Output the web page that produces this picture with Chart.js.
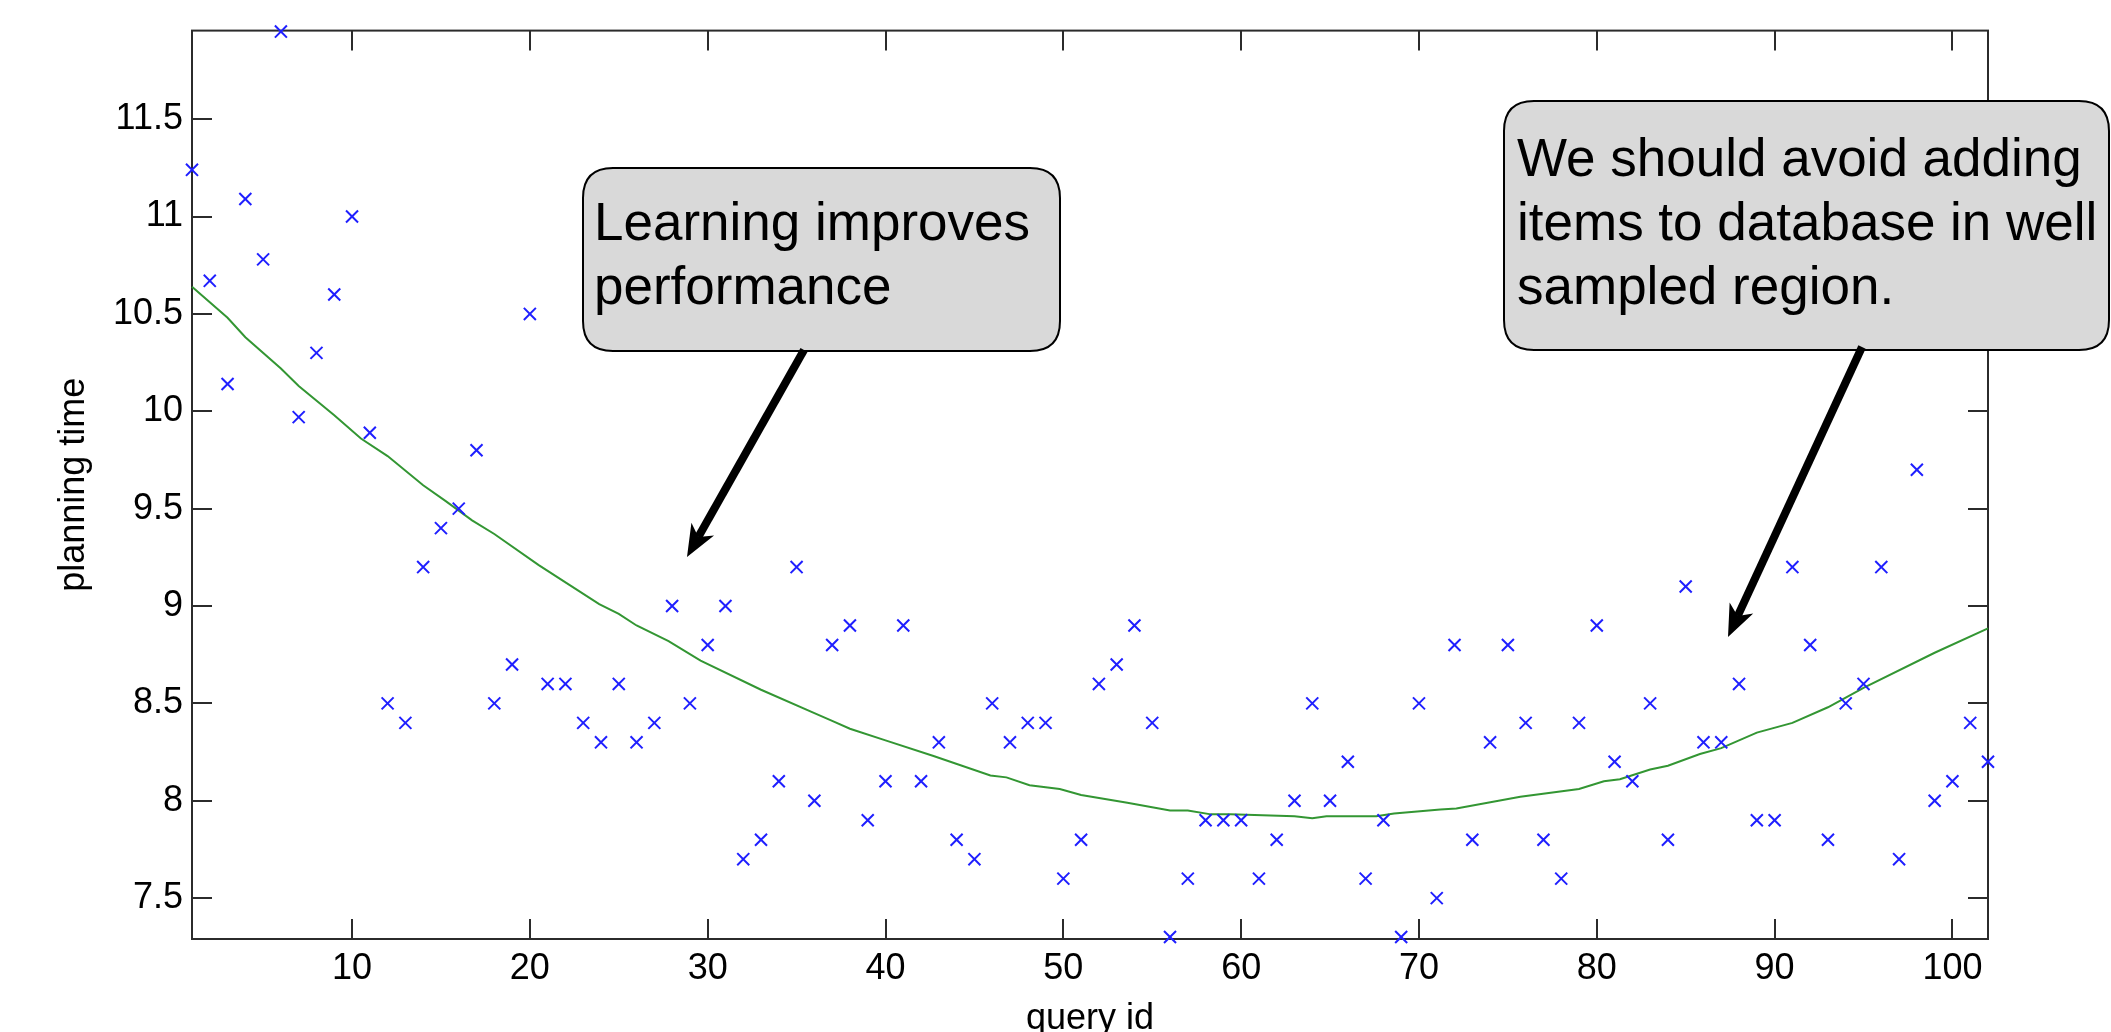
<!DOCTYPE html>
<html>
<head>
<meta charset="utf-8">
<title>planning time vs query id</title>
<script src="https://cdn.jsdelivr.net/npm/chart.js@4.4.1/dist/chart.umd.min.js"></script>
<style>
    html, body { margin: 0; padding: 0; background: #fff; }
    #wrap { width: 2111px; height: 1032px; position: relative; overflow: hidden; }
</style>
</head>
<body>
<div id="wrap"><canvas id="chart" width="2111" height="1032"></canvas></div>
<script>
// query ids (x) and measured planning time (y)
const queryIds = [1, 2, 3, 4, 5, 6, 7, 8, 9, 10, 11, 12, 13, 14, 15, 16, 17, 18, 19, 20,
    21, 22, 23, 24, 25, 26, 27, 28, 29, 30, 31, 32, 33, 34, 35, 36, 37, 38, 39, 40,
    41, 42, 43, 44, 45, 46, 47, 48, 49, 50, 51, 52, 53, 54, 55, 56, 57, 58, 59, 60,
    61, 62, 63, 64, 65, 66, 67, 68, 69, 70, 71, 72, 73, 74, 75, 76, 77, 78, 79, 80,
    81, 82, 83, 84, 85, 86, 87, 88, 89, 90, 91, 92, 93, 94, 95, 96, 97, 98, 99, 100,
    101, 102];
const planningTimes = [11.24, 10.67, 10.14, 11.09, 10.78, 11.95, 9.97, 10.30, 10.60, 11.0,
    9.89, 8.5, 8.4, 9.2, 9.4, 9.5, 9.8, 8.5, 8.7, 10.5,
    8.6, 8.6, 8.4, 8.3, 8.6, 8.3, 8.4, 9.0, 8.5, 8.8,
    9.0, 7.7, 7.8, 8.1, 9.2, 8.0, 8.8, 8.9, 7.9, 8.1,
    8.9, 8.1, 8.3, 7.8, 7.7, 8.5, 8.3, 8.4, 8.4, 7.6,
    7.8, 8.6, 8.7, 8.9, 8.4, 7.3, 7.6, 7.9, 7.9, 7.9,
    7.6, 7.8, 8.0, 8.5, 8.0, 8.2, 7.6, 7.9, 7.3, 8.5,
    7.5, 8.8, 7.8, 8.3, 8.8, 8.4, 7.8, 7.6, 8.4, 8.9,
    8.2, 8.1, 8.5, 7.8, 9.1, 8.3, 8.3, 8.6, 7.9, 7.9,
    9.2, 8.8, 7.8, 8.5, 8.6, 9.2, 7.7, 9.7, 8.0, 8.1,
    8.4, 8.2];

// green trend line
const trendX = [1, 3, 4, 6, 7, 9, 10.5, 12, 14, 15.25, 16.75, 18, 20.5, 22.2, 23.9, 25, 26, 27.8,
    29.6, 33, 36, 37, 38, 40, 42.7, 45.9, 46.8, 48.1, 49.8, 51, 53.6, 56, 57, 58.3, 59.4,
    63, 64, 64.8, 67.6, 68.6, 71.2, 72.1, 75.7, 79, 80.4, 81.3, 83, 84, 85.8, 87, 89, 91,
    93, 95, 99, 102];
const trendY = [10.64, 10.48, 10.38, 10.22, 10.13, 9.98, 9.86, 9.77, 9.62, 9.54, 9.44, 9.37, 9.21, 9.11, 9.01, 8.96, 8.90, 8.82,
    8.72, 8.57, 8.45, 8.41, 8.37, 8.31, 8.23, 8.13, 8.12, 8.08, 8.06, 8.03, 7.99, 7.95, 7.95, 7.93, 7.93,
    7.92, 7.91, 7.92, 7.92, 7.935, 7.955, 7.96, 8.02, 8.06, 8.10, 8.11, 8.16, 8.18, 8.24, 8.27, 8.35, 8.40,
    8.48, 8.58, 8.76, 8.885];

const xTicks = [10, 20, 30, 40, 50, 60, 70, 80, 90, 100];
const yTicks = [7.5, 8, 8.5, 9, 9.5, 10, 10.5, 11, 11.5];

const calloutLeft = ['Learning improves', 'performance'];
const calloutRight = ['We should avoid adding', 'items to database in well', 'sampled region.'];

const FONT = '"Liberation Sans", Arial, Helvetica, sans-serif';
const AXIS_COLOR = '#2b2b2b';
const TICK_LEN = 20;

// callout boxes and arrows (figure pixel positions)
const callouts = [
    { left: 583, top: 168, right: 1060, bottom: 351, textX: 594, baseline: 240,
      lines: calloutLeft, from: [804, 350], to: [687, 557] },
    { left: 1504, top: 101, right: 2109, bottom: 350, textX: 1517, baseline: 176,
      lines: calloutRight, from: [1862, 347], to: [1728, 637] }
];

function roundRect(ctx, x, y, w, h, r) {
    ctx.beginPath();
    ctx.moveTo(x + r, y);
    ctx.lineTo(x + w - r, y);
    ctx.quadraticCurveTo(x + w, y, x + w, y + r);
    ctx.lineTo(x + w, y + h - r);
    ctx.quadraticCurveTo(x + w, y + h, x + w - r, y + h);
    ctx.lineTo(x + r, y + h);
    ctx.quadraticCurveTo(x, y + h, x, y + h - r);
    ctx.lineTo(x, y + r);
    ctx.quadraticCurveTo(x, y, x + r, y);
    ctx.closePath();
}

function drawArrow(ctx, from, to) {
    const headLen = 32, headHalf = 13, notch = 9;
    const dx = to[0] - from[0], dy = to[1] - from[1];
    const len = Math.hypot(dx, dy);
    const ux = dx / len, uy = dy / len;
    const nx = -uy, ny = ux;
    const bx = to[0] - ux * headLen, by = to[1] - uy * headLen;

    ctx.strokeStyle = '#000';
    ctx.lineWidth = 8;
    ctx.lineCap = 'butt';
    ctx.beginPath();
    ctx.moveTo(from[0], from[1]);
    ctx.lineTo(to[0] - ux * (headLen - notch), to[1] - uy * (headLen - notch));
    ctx.stroke();

    ctx.fillStyle = '#000';
    ctx.beginPath();
    ctx.moveTo(to[0], to[1]);
    ctx.lineTo(bx + nx * headHalf, by + ny * headHalf);
    ctx.lineTo(to[0] - ux * (headLen - notch), to[1] - uy * (headLen - notch));
    ctx.lineTo(bx - nx * headHalf, by - ny * headHalf);
    ctx.closePath();
    ctx.fill();
}

// box around the axes with inward ticks on all four sides
const axesBox = {
    id: 'axesBox',
    beforeDatasetsDraw(chart) {
        const { ctx, chartArea: a, scales } = chart;
        ctx.save();
        ctx.strokeStyle = AXIS_COLOR;
        ctx.lineWidth = 2;
        ctx.strokeRect(a.left, a.top, a.right - a.left, a.bottom - a.top);
        ctx.beginPath();
        xTicks.forEach(v => {
            const px = Math.round(scales.x.getPixelForValue(v));
            ctx.moveTo(px, a.bottom); ctx.lineTo(px, a.bottom - TICK_LEN);
            ctx.moveTo(px, a.top); ctx.lineTo(px, a.top + TICK_LEN);
        });
        yTicks.forEach(v => {
            const py = Math.round(scales.y.getPixelForValue(v));
            ctx.moveTo(a.left, py); ctx.lineTo(a.left + TICK_LEN, py);
            ctx.moveTo(a.right, py); ctx.lineTo(a.right - TICK_LEN, py);
        });
        ctx.stroke();
        ctx.restore();
    }
};

const calloutPlugin = {
    id: 'callouts',
    afterDraw(chart) {
        const ctx = chart.ctx;
        callouts.forEach(c => {
            ctx.save();
            roundRect(ctx, c.left, c.top, c.right - c.left, c.bottom - c.top, 30);
            ctx.fillStyle = '#d9d9d9';
            ctx.fill();
            ctx.lineWidth = 2;
            ctx.strokeStyle = '#000';
            ctx.stroke();
            ctx.fillStyle = '#000';
            ctx.font = '53px ' + FONT;
            ctx.textBaseline = 'alphabetic';
            ctx.textAlign = 'left';
            c.lines.forEach((t, i) => ctx.fillText(t, c.textX, c.baseline + i * 64));
            drawArrow(ctx, c.from, c.to);
            ctx.restore();
        });
    }
};

const scatterPoints = queryIds.map((x, i) => ({ x: x, y: planningTimes[i] }));
const trendPoints = trendX.map((x, i) => ({ x: x, y: trendY[i] }));

new Chart(document.getElementById('chart').getContext('2d'), {
    type: 'scatter',
    data: {
        datasets: [{
            label: 'planning time',
            data: scatterPoints,
            pointStyle: 'crossRot',
            pointRadius: 8.5,
            pointBorderWidth: 2,
            borderColor: '#1f1fff',
            backgroundColor: '#1f1fff',
            clip: false
        }, {
            type: 'line',
            label: 'trend',
            data: trendPoints,
            borderColor: '#339633',
            borderWidth: 2,
            pointRadius: 0,
            tension: 0,
            fill: false,
            clip: false
        }]
    },
    options: {
        responsive: false,
        animation: false,
        devicePixelRatio: 1,
        layout: { padding: { top: 27, right: 123, bottom: 0, left: 0 } },
        plugins: {
            legend: { display: false },
            tooltip: { enabled: false }
        },
        scales: {
            x: {
                type: 'linear',
                min: 1,
                max: 102,
                afterBuildTicks: s => { s.ticks = xTicks.map(v => ({ value: v })); },
                afterFit: s => { s.height = 93; },
                grid: { display: false, drawTicks: false },
                border: { display: false },
                ticks: {
                    autoSkip: false,
                    maxRotation: 0,
                    padding: 8,
                    color: '#000',
                    font: { family: FONT, size: 36 },
                    callback: v => String(v)
                },
                title: {
                    display: true,
                    text: 'query id',
                    color: '#000',
                    font: { family: FONT, size: 36, lineHeight: 1 },
                    padding: { top: 0, bottom: -5.5 }
                }
            },
            y: {
                type: 'linear',
                min: 7.29,
                max: 11.955,
                afterBuildTicks: s => { s.ticks = yTicks.map(v => ({ value: v })); },
                afterFit: s => { s.width = 192; },
                grid: { display: false, drawTicks: false },
                border: { display: false },
                ticks: {
                    autoSkip: false,
                    padding: 9,
                    color: '#000',
                    font: { family: FONT, size: 36 },
                    callback: v => String(v)
                },
                title: {
                    display: true,
                    text: 'planning time',
                    color: '#000',
                    font: { family: FONT, size: 36, lineHeight: 1 },
                    padding: { top: 56.5, bottom: 0 }
                }
            }
        }
    },
    plugins: [axesBox, calloutPlugin]
});
</script>
</body>
</html>
